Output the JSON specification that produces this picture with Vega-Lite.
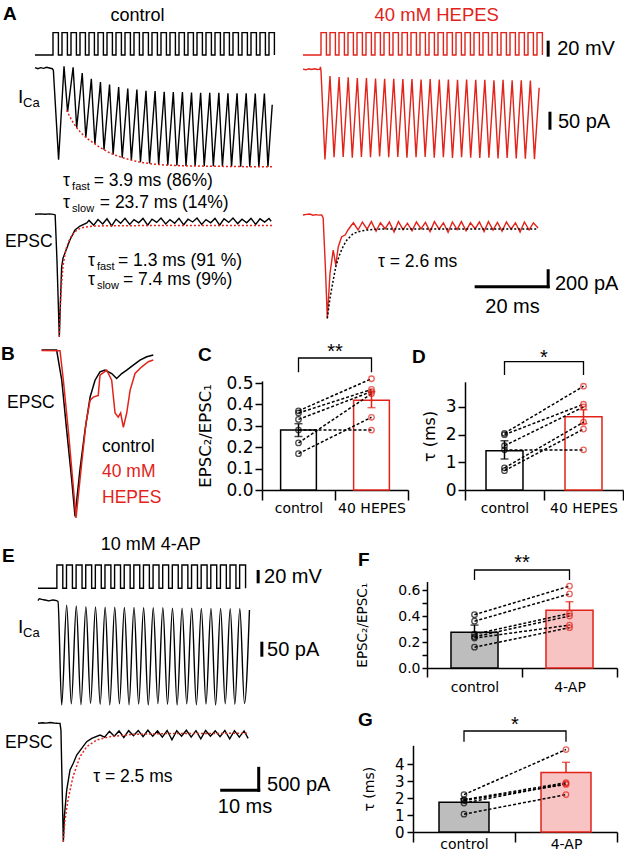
{
"$schema": "https://vega.github.io/schema/vega-lite/v6.json",
"width": 624, "height": 853, "padding": 0, "autosize": "none", "background": "white",
"config": {
  "view": {"stroke": null},
  "text": {"font": "Liberation Sans", "color": "#000000"},
  "axis": {"labelFont": "DejaVu Sans", "titleFont": "DejaVu Sans", "domainColor": "#000000", "tickColor": "#000000", "labelColor": "#000000", "titleColor": "#000000", "grid": false, "titleFontWeight": "normal", "labelOverlap": false, "labelBound": false, "labelFlush": false}
},
"datasets": {
  "vA": [{"t":0,"v":0},{"t":5,"v":28},{"t":6.5,"v":0},{"t":7.5,"v":28},{"t":9,"v":0},{"t":10,"v":28},{"t":11.5,"v":0},{"t":12.5,"v":28},{"t":14,"v":0},{"t":15,"v":28},{"t":16.5,"v":0},{"t":17.5,"v":28},{"t":19,"v":0},{"t":20,"v":28},{"t":21.5,"v":0},{"t":22.5,"v":28},{"t":24,"v":0},{"t":25,"v":28},{"t":26.5,"v":0},{"t":27.5,"v":28},{"t":29,"v":0},{"t":30,"v":28},{"t":31.5,"v":0},{"t":32.5,"v":28},{"t":34,"v":0},{"t":35,"v":28},{"t":36.5,"v":0},{"t":37.5,"v":28},{"t":39,"v":0},{"t":40,"v":28},{"t":41.5,"v":0},{"t":42.5,"v":28},{"t":44,"v":0},{"t":45,"v":28},{"t":46.5,"v":0},{"t":47.5,"v":28},{"t":49,"v":0},{"t":50,"v":28},{"t":51.5,"v":0},{"t":52.5,"v":28},{"t":54,"v":0},{"t":55,"v":28},{"t":56.5,"v":0},{"t":57.5,"v":28},{"t":59,"v":0},{"t":60,"v":28},{"t":61.5,"v":0},{"t":62.5,"v":28},{"t":64,"v":0},{"t":65,"v":28},{"t":66.5,"v":0}],
  "iAc": [{"t":0,"v":1},{"t":0.8,"v":-2},{"t":1.6,"v":1},{"t":2.4,"v":-1},{"t":3.2,"v":2},{"t":4.0,"v":0},{"t":4.8,"v":-2},{"t":5.1,"v":-6},{"t":6.55,"v":-255},{"t":8.06,"v":5},{"t":9.05,"v":-122},{"t":10.59,"v":2},{"t":11.58,"v":-166},{"t":13.12,"v":-14},{"t":14.11,"v":-193},{"t":15.65,"v":-30},{"t":16.64,"v":-211},{"t":18.18,"v":-39},{"t":19.17,"v":-227},{"t":20.71,"v":-46},{"t":21.70,"v":-240},{"t":23.24,"v":-53},{"t":24.23,"v":-249},{"t":25.77,"v":-57},{"t":26.76,"v":-256},{"t":28.30,"v":-60},{"t":29.29,"v":-262},{"t":30.83,"v":-63},{"t":31.82,"v":-265},{"t":33.36,"v":-64},{"t":34.35,"v":-268},{"t":35.89,"v":-66},{"t":36.88,"v":-270},{"t":38.42,"v":-67},{"t":39.41,"v":-271},{"t":40.95,"v":-67},{"t":41.94,"v":-272},{"t":43.48,"v":-68},{"t":44.47,"v":-272},{"t":46.01,"v":-69},{"t":47.00,"v":-273},{"t":48.54,"v":-69},{"t":49.53,"v":-273},{"t":51.07,"v":-69},{"t":52.06,"v":-273},{"t":53.60,"v":-70},{"t":54.59,"v":-274},{"t":56.13,"v":-70},{"t":57.12,"v":-274},{"t":58.66,"v":-70},{"t":59.65,"v":-274},{"t":61.19,"v":-71},{"t":62.18,"v":-274},{"t":63.72,"v":-71},{"t":64.71,"v":-274},{"t":65.9,"v":-102}],
  "fitAc": [{"t":8.8,"v":-117},{"t":9.5,"v":-132},{"t":10.5,"v":-150},{"t":11.5,"v":-165},{"t":12.5,"v":-177},{"t":13.5,"v":-187},{"t":14.5,"v":-196},{"t":15.5,"v":-203},{"t":16.5,"v":-210},{"t":17.5,"v":-217},{"t":18.5,"v":-223},{"t":20,"v":-232},{"t":22,"v":-241},{"t":24,"v":-248},{"t":26,"v":-254},{"t":28,"v":-259},{"t":30,"v":-263},{"t":33,"v":-267},{"t":37,"v":-270},{"t":42,"v":-272},{"t":50,"v":-273},{"t":58,"v":-274},{"t":66,"v":-274}],
  "iAh": [{"t":0,"v":-3},{"t":0.8,"v":-5},{"t":1.6,"v":-2},{"t":2.4,"v":-4},{"t":3.2,"v":-2},{"t":4.0,"v":-4},{"t":4.7,"v":-3},{"t":4.85,"v":3},{"t":5.0,"v":-8},{"t":6.1,"v":-254},{"t":7.5,"v":-22},{"t":8.63,"v":-248},{"t":10.03,"v":-25},{"t":11.16,"v":-247},{"t":12.56,"v":-26},{"t":13.69,"v":-249},{"t":15.09,"v":-28},{"t":16.22,"v":-247},{"t":17.62,"v":-28},{"t":18.75,"v":-248},{"t":20.15,"v":-29},{"t":21.28,"v":-246},{"t":22.68,"v":-30},{"t":23.81,"v":-248},{"t":25.21,"v":-30},{"t":26.34,"v":-247},{"t":27.74,"v":-31},{"t":28.87,"v":-249},{"t":30.27,"v":-31},{"t":31.40,"v":-248},{"t":32.80,"v":-32},{"t":33.93,"v":-247},{"t":35.33,"v":-31},{"t":36.46,"v":-249},{"t":37.86,"v":-32},{"t":38.99,"v":-248},{"t":40.39,"v":-32},{"t":41.52,"v":-250},{"t":42.92,"v":-33},{"t":44.05,"v":-248},{"t":45.45,"v":-32},{"t":46.58,"v":-249},{"t":47.98,"v":-33},{"t":49.11,"v":-250},{"t":50.51,"v":-33},{"t":51.64,"v":-249},{"t":53.04,"v":-34},{"t":54.17,"v":-251},{"t":55.57,"v":-33},{"t":56.70,"v":-250},{"t":58.10,"v":-34},{"t":59.23,"v":-251},{"t":60.63,"v":-34},{"t":61.76,"v":-252},{"t":63.16,"v":-35},{"t":64.29,"v":-253},{"t":65.6,"v":-55}],
  "eAc": [{"t":0,"v":-4},{"t":1.5,"v":2},{"t":2.8,"v":-3},{"t":4,"v":1},{"t":5.1,"v":-4},{"t":5.6,"v":-12},{"t":6.1,"v":-575},{"t":6.75,"v":-1534},{"t":7.08,"v":-1075},{"t":7.4,"v":-659},{"t":7.8,"v":-550},{"t":8.33,"v":-488},{"t":9.7,"v":-325},{"t":11.1,"v":-200},{"t":12.5,"v":-150},{"t":14.4,"v":-112},{"t":15.0,"v":-80},{"t":16.3,"v":-140},{"t":17.5,"v":-70},{"t":18.8,"v":-125},{"t":20.0,"v":-60},{"t":21.3,"v":-150},{"t":22.5,"v":-65},{"t":23.8,"v":-115},{"t":25.0,"v":-55},{"t":26.3,"v":-130},{"t":27.5,"v":-70},{"t":28.8,"v":-110},{"t":30.0,"v":-55},{"t":31.3,"v":-140},{"t":32.5,"v":-65},{"t":33.8,"v":-105},{"t":35.0,"v":-50},{"t":36.3,"v":-125},{"t":37.5,"v":-70},{"t":38.8,"v":-115},{"t":40.0,"v":-55},{"t":41.3,"v":-135},{"t":42.5,"v":-65},{"t":43.8,"v":-100},{"t":45.0,"v":-50},{"t":46.3,"v":-130},{"t":47.5,"v":-70},{"t":48.8,"v":-110},{"t":50.0,"v":-55},{"t":51.3,"v":-140},{"t":52.5,"v":-60},{"t":53.8,"v":-105},{"t":55.0,"v":-50},{"t":56.3,"v":-120},{"t":57.5,"v":-65},{"t":58.8,"v":-110},{"t":60.0,"v":-55},{"t":61.3,"v":-130},{"t":62.5,"v":-60},{"t":63.8,"v":-100},{"t":65.0,"v":-55},{"t":65.6,"v":-90}],
  "fitAcE": [{"t":6.75,"v":-1534},{"t":7.0,"v":-1180},{"t":7.3,"v":-930},{"t":7.8,"v":-640},{"t":8.6,"v":-440},{"t":9.7,"v":-305},{"t":11.1,"v":-220},{"t":12.5,"v":-180},{"t":14,"v":-162},{"t":16,"v":-152},{"t":20,"v":-147},{"t":30,"v":-145},{"t":66,"v":-145}],
  "eAh": [{"t":0,"v":-12},{"t":1.0,"v":-5},{"t":1.9,"v":0},{"t":2.8,"v":-15},{"t":3.6,"v":-8},{"t":4.4,"v":-14},{"t":5.2,"v":-12},{"t":5.6,"v":-50},{"t":6.25,"v":-700},{"t":6.75,"v":-1304},{"t":7.5,"v":-741},{"t":8.4,"v":-450},{"t":9.1,"v":-638},{"t":9.8,"v":-409},{"t":10.75,"v":-284},{"t":11.7,"v":-263},{"t":12.5,"v":-200},{"t":13.3,"v":-150},{"t":14.0,"v":-110},{"t":15.3,"v":-200},{"t":16.5,"v":-100},{"t":17.8,"v":-190},{"t":19.0,"v":-95},{"t":20.3,"v":-215},{"t":21.5,"v":-110},{"t":22.8,"v":-185},{"t":24.0,"v":-100},{"t":25.3,"v":-225},{"t":26.5,"v":-95},{"t":27.8,"v":-195},{"t":29.0,"v":-115},{"t":30.3,"v":-210},{"t":31.5,"v":-100},{"t":32.8,"v":-185},{"t":34.0,"v":-105},{"t":35.3,"v":-220},{"t":36.5,"v":-95},{"t":37.8,"v":-190},{"t":39.0,"v":-110},{"t":40.3,"v":-230},{"t":41.5,"v":-100},{"t":42.8,"v":-195},{"t":44.0,"v":-95},{"t":45.3,"v":-210},{"t":46.5,"v":-110},{"t":47.8,"v":-185},{"t":49.0,"v":-100},{"t":50.3,"v":-220},{"t":51.5,"v":-95},{"t":52.8,"v":-200},{"t":54.0,"v":-105},{"t":55.3,"v":-215},{"t":56.5,"v":-100},{"t":57.8,"v":-190},{"t":59.0,"v":-110},{"t":60.3,"v":-225},{"t":61.5,"v":-100},{"t":62.8,"v":-200},{"t":64.0,"v":-110},{"t":65.3,"v":-175}],
  "fitAh": [{"t":6.75,"v":-1304},{"t":7.5,"v":-1050},{"t":8.4,"v":-825},{"t":9.2,"v":-640},{"t":10.3,"v":-492},{"t":11.2,"v":-400},{"t":12.2,"v":-325},{"t":14.0,"v":-242},{"t":16,"v":-215},{"t":17.7,"v":-200},{"t":20,"v":-192},{"t":22.3,"v":-187},{"t":30,"v":-186},{"t":65.3,"v":-186}],
  "bK": [{"t":0.1,"v":0},{"t":1.04,"v":0},{"t":1.36,"v":-0.18},{"t":1.67,"v":-0.48},{"t":1.98,"v":-0.77},{"t":2.19,"v":-0.99},{"t":2.5,"v":-0.71},{"t":2.81,"v":-0.48},{"t":3.13,"v":-0.28},{"t":3.44,"v":-0.18},{"t":3.75,"v":-0.13},{"t":4.06,"v":-0.12},{"t":4.48,"v":-0.14},{"t":4.79,"v":-0.17},{"t":5.11,"v":-0.14},{"t":5.42,"v":-0.12},{"t":5.83,"v":-0.09},{"t":6.25,"v":-0.06},{"t":6.67,"v":-0.04},{"t":7.08,"v":-0.03}],
  "bR": [{"t":0.1,"v":-0.003},{"t":1.25,"v":-0.004},{"t":1.46,"v":-0.18},{"t":1.77,"v":-0.48},{"t":2.04,"v":-0.77},{"t":2.25,"v":-1.0},{"t":2.61,"v":-0.67},{"t":2.88,"v":-0.43},{"t":3.13,"v":-0.3},{"t":3.33,"v":-0.28},{"t":3.64,"v":-0.27},{"t":3.75,"v":-0.15},{"t":4.17,"v":-0.12},{"t":4.48,"v":-0.18},{"t":4.69,"v":-0.375},{"t":4.89,"v":-0.4},{"t":5.04,"v":-0.375},{"t":5.21,"v":-0.46},{"t":5.42,"v":-0.375},{"t":5.63,"v":-0.24},{"t":5.94,"v":-0.14},{"t":6.36,"v":-0.1},{"t":6.77,"v":-0.07},{"t":7.08,"v":-0.06}],
  "vE": [{"t":0,"v":0},{"t":5.1,"v":35},{"t":6.7,"v":0},{"t":7.7,"v":35},{"t":9.3,"v":0},{"t":10.3,"v":35},{"t":11.9,"v":0},{"t":12.9,"v":35},{"t":14.5,"v":0},{"t":15.5,"v":35},{"t":17.1,"v":0},{"t":18.1,"v":35},{"t":19.7,"v":0},{"t":20.7,"v":35},{"t":22.3,"v":0},{"t":23.3,"v":35},{"t":24.9,"v":0},{"t":25.9,"v":35},{"t":27.5,"v":0},{"t":28.5,"v":35},{"t":30.1,"v":0},{"t":31.1,"v":35},{"t":32.7,"v":0},{"t":33.7,"v":35},{"t":35.3,"v":0},{"t":36.3,"v":35},{"t":37.9,"v":0},{"t":38.9,"v":35},{"t":40.5,"v":0},{"t":41.5,"v":35},{"t":43.1,"v":0},{"t":44.1,"v":35},{"t":45.7,"v":0},{"t":46.7,"v":35},{"t":48.3,"v":0},{"t":49.3,"v":35},{"t":50.9,"v":0},{"t":51.9,"v":35},{"t":53.5,"v":0},{"t":54.5,"v":35},{"t":56.1,"v":0}],
  "iE": [{"t":0,"v":-2},{"t":0.4,"v":4},{"t":1,"v":2},{"t":2,"v":0},{"t":3,"v":-3},{"t":4,"v":0},{"t":5.0,"v":-2},{"t":5.4,"v":-5},{"t":6.4,"v":-350},{"t":7.75,"v":-17},{"t":9.0,"v":-346},{"t":10.35,"v":-20},{"t":11.6,"v":-349},{"t":12.95,"v":-22},{"t":14.2,"v":-345},{"t":15.55,"v":-23},{"t":16.8,"v":-348},{"t":18.15,"v":-24},{"t":19.4,"v":-350},{"t":20.75,"v":-24},{"t":22.0,"v":-346},{"t":23.35,"v":-25},{"t":24.6,"v":-349},{"t":25.95,"v":-25},{"t":27.2,"v":-347},{"t":28.55,"v":-26},{"t":29.8,"v":-350},{"t":31.15,"v":-26},{"t":32.4,"v":-345},{"t":33.75,"v":-26},{"t":35.0,"v":-348},{"t":36.35,"v":-27},{"t":37.6,"v":-350},{"t":38.95,"v":-27},{"t":40.2,"v":-346},{"t":41.55,"v":-27},{"t":42.8,"v":-349},{"t":44.15,"v":-28},{"t":45.4,"v":-347},{"t":46.75,"v":-28},{"t":48.0,"v":-350},{"t":49.35,"v":-28},{"t":50.6,"v":-346},{"t":51.95,"v":-29},{"t":53.2,"v":-348},{"t":54.55,"v":-29},{"t":55.8,"v":-345},{"t":57.15,"v":-33}],
  "eE": [{"t":0,"v":-5},{"t":1.2,"v":5},{"t":2.2,"v":-3},{"t":3.24,"v":11},{"t":4.3,"v":0},{"t":5.2,"v":-5},{"t":5.95,"v":-7},{"t":6.2,"v":-160},{"t":6.84,"v":-2698},{"t":7.16,"v":-2090},{"t":7.76,"v":-1523},{"t":8.65,"v":-1068},{"t":9.54,"v":-916},{"t":10.46,"v":-727},{"t":11.81,"v":-575},{"t":13.16,"v":-425},{"t":14.51,"v":-348},{"t":16.76,"v":-273},{"t":18.0,"v":-320},{"t":19.3,"v":-190},{"t":20.6,"v":-300},{"t":21.9,"v":-180},{"t":23.2,"v":-330},{"t":24.5,"v":-175},{"t":25.8,"v":-290},{"t":27.1,"v":-170},{"t":28.4,"v":-310},{"t":29.7,"v":-165},{"t":31.0,"v":-300},{"t":32.3,"v":-180},{"t":33.6,"v":-320},{"t":34.9,"v":-170},{"t":36.2,"v":-380},{"t":37.5,"v":-175},{"t":38.8,"v":-300},{"t":40.1,"v":-165},{"t":41.4,"v":-320},{"t":42.7,"v":-175},{"t":44.0,"v":-360},{"t":45.3,"v":-170},{"t":46.6,"v":-300},{"t":47.9,"v":-180},{"t":49.2,"v":-310},{"t":50.5,"v":-170},{"t":51.8,"v":-360},{"t":53.1,"v":-175},{"t":54.4,"v":-320},{"t":55.7,"v":-180},{"t":56.8,"v":-350}],
  "fitE": [{"t":6.84,"v":-2698},{"t":7.3,"v":-2200},{"t":8.1,"v":-1750},{"t":9.46,"v":-1220},{"t":11.35,"v":-765},{"t":13.16,"v":-538},{"t":15.86,"v":-386},{"t":19.46,"v":-311},{"t":25.8,"v":-258},{"t":35,"v":-240},{"t":56.8,"v":-234}],
  "cBar": [{"g":"control","y":0.28},{"g":"40 HEPES","y":0.42}],
  "cErr": [{"g":"control","y":0.25,"y2":0.31},{"g":"40 HEPES","y":0.385,"y2":0.46}],
  "cCap": [{"g":"control","y":0.25},{"g":"control","y":0.31},{"g":"40 HEPES","y":0.385},{"g":"40 HEPES","y":0.46}],
  "cBr": [{"g":"control","y":0.551,"k":1},{"g":"control","y":0.617,"k":2},{"g":"40 HEPES","y":0.617,"k":3},{"g":"40 HEPES","y":0.551,"k":4}],
  "cPts": [{"pair":1,"g":"control","y":0.37},{"pair":1,"g":"40 HEPES","y":0.52},{"pair":2,"g":"control","y":0.36},{"pair":2,"g":"40 HEPES","y":0.47},{"pair":3,"g":"control","y":0.33},{"pair":3,"g":"40 HEPES","y":0.46},{"pair":4,"g":"control","y":0.28},{"pair":4,"g":"40 HEPES","y":0.28},{"pair":5,"g":"control","y":0.22},{"pair":5,"g":"40 HEPES","y":0.45},{"pair":6,"g":"control","y":0.17},{"pair":6,"g":"40 HEPES","y":0.34}],
  "dBar": [{"g":"control","y":1.42},{"g":"40 HEPES","y":2.65}],
  "dErr": [{"g":"control","y":1.12,"y2":1.78},{"g":"40 HEPES","y":2.4,"y2":2.9}],
  "dCap": [{"g":"control","y":1.12},{"g":"control","y":1.78},{"g":"40 HEPES","y":2.4},{"g":"40 HEPES","y":2.9}],
  "dBr": [{"g":"control","y":4.16,"k":1},{"g":"control","y":4.64,"k":2},{"g":"40 HEPES","y":4.64,"k":3},{"g":"40 HEPES","y":4.16,"k":4}],
  "dPts": [{"pair":1,"g":"control","y":2.05},{"pair":1,"g":"40 HEPES","y":3.75},{"pair":2,"g":"control","y":2.0},{"pair":2,"g":"40 HEPES","y":3.1},{"pair":3,"g":"control","y":1.6},{"pair":3,"g":"40 HEPES","y":3.0},{"pair":4,"g":"control","y":1.45},{"pair":4,"g":"40 HEPES","y":1.45},{"pair":5,"g":"control","y":0.8},{"pair":5,"g":"40 HEPES","y":2.45},{"pair":6,"g":"control","y":0.7},{"pair":6,"g":"40 HEPES","y":2.2}],
  "fBar": [{"g":"control","y":0.275},{"g":"4-AP","y":0.445}],
  "fErr": [{"g":"control","y":0.275,"y2":0.33},{"g":"4-AP","y":0.445,"y2":0.51}],
  "fCap": [{"g":"control","y":0.33},{"g":"4-AP","y":0.51}],
  "fBr": [{"g":"control","y":0.677,"k":1},{"g":"control","y":0.754,"k":2},{"g":"4-AP","y":0.754,"k":3},{"g":"4-AP","y":0.677,"k":4}],
  "fPts": [{"pair":1,"g":"control","y":0.41},{"pair":1,"g":"4-AP","y":0.63},{"pair":2,"g":"control","y":0.36},{"pair":2,"g":"4-AP","y":0.57},{"pair":3,"g":"control","y":0.26},{"pair":3,"g":"4-AP","y":0.42},{"pair":4,"g":"control","y":0.24},{"pair":4,"g":"4-AP","y":0.40},{"pair":5,"g":"control","y":0.23},{"pair":5,"g":"4-AP","y":0.33},{"pair":6,"g":"control","y":0.16},{"pair":6,"g":"4-AP","y":0.31}],
  "gBar": [{"g":"control","y":1.75},{"g":"4-AP","y":3.5}],
  "gErr": [{"g":"control","y":1.75,"y2":1.95},{"g":"4-AP","y":3.5,"y2":4.1}],
  "gCap": [{"g":"control","y":1.95},{"g":"4-AP","y":4.1}],
  "gBr": [{"g":"control","y":5.31,"k":1},{"g":"control","y":5.94,"k":2},{"g":"4-AP","y":5.94,"k":3},{"g":"4-AP","y":5.31,"k":4}],
  "gPts": [{"pair":1,"g":"control","y":2.2},{"pair":1,"g":"4-AP","y":4.85},{"pair":2,"g":"control","y":1.9},{"pair":2,"g":"4-AP","y":2.9},{"pair":3,"g":"control","y":1.85},{"pair":3,"g":"4-AP","y":2.8},{"pair":4,"g":"control","y":1.7},{"pair":4,"g":"4-AP","y":2.85},{"pair":5,"g":"control","y":1.05},{"pair":5,"g":"4-AP","y":2.2}]
},
"layer": [
  {"data":{"name":"vA"},
   "encoding":{"x":{"field":"t","type":"quantitative","scale":{"domain":[0,70],"range":[35,287],"nice":false,"zero":false},"axis":null},
               "y":{"field":"v","type":"quantitative","scale":{"domain":[0,28],"range":[55,32.6],"nice":false,"zero":false},"axis":null}},
   "layer":[
     {"mark":{"type":"line","interpolate":"step-after","color":"#000000","strokeWidth":1.4}},
     {"data":{"values":[{"t":28.47,"v":42.9,"label":"control"}]},"mark":{"type":"text","fontSize":18,"align":"center","baseline":"alphabetic"},"encoding":{"text":{"field":"label"}}},
     {"data":{"values":[{"t":-8.89,"v":43.75,"label":"A"}]},"mark":{"type":"text","fontSize":19,"fontWeight":"bold","align":"left","baseline":"alphabetic"},"encoding":{"text":{"field":"label"}}}
   ]},
  {"data":{"name":"vA"},
   "encoding":{"x":{"field":"t","type":"quantitative","scale":{"domain":[0,70],"range":[303,555],"nice":false,"zero":false},"axis":null},
               "y":{"field":"v","type":"quantitative","scale":{"domain":[0,28],"range":[55,32.6],"nice":false,"zero":false},"axis":null}},
   "layer":[
     {"mark":{"type":"line","interpolate":"step-after","color":"#e2231a","strokeWidth":1.4}},
     {"data":{"values":[{"t":37.14,"v":42.9,"label":"40 mM HEPES"}]},"mark":{"type":"text","fontSize":18.5,"align":"center","baseline":"alphabetic","color":"#e2231a"},"encoding":{"text":{"field":"label"}}},
     {"data":{"values":[{"t":68.1,"v":-2.1,"v2":17.9}]},"mark":{"type":"rule","strokeWidth":3,"color":"#000000"},"encoding":{"y2":{"field":"v2"}}},
     {"data":{"values":[{"t":70.6,"v":0,"label":"20 mV"}]},"mark":{"type":"text","fontSize":20,"align":"left","baseline":"alphabetic"},"encoding":{"text":{"field":"label"}}}
   ]},
  {"data":{"name":"iAc"},
   "encoding":{"x":{"field":"t","type":"quantitative","scale":{"domain":[0,70],"range":[35,287],"nice":false,"zero":false},"axis":null},
               "y":{"field":"v","type":"quantitative","scale":{"domain":[-300,0],"range":[176,68],"nice":false,"zero":false},"axis":null}},
   "layer":[
     {"mark":{"type":"line","color":"#000000","strokeWidth":1.4}},
     {"data":{"name":"fitAc"},"mark":{"type":"line","color":"#e2231a","strokeWidth":1.5,"strokeDash":[2,2]}},
     {"data":{"values":[{"t":-4.72,"v":-97.2,"label":"I"}]},"mark":{"type":"text","fontSize":19,"align":"left","baseline":"alphabetic"},"encoding":{"text":{"field":"label"}}},
     {"data":{"values":[{"t":-3.33,"v":-108.3,"label":"Ca"}]},"mark":{"type":"text","fontSize":13,"align":"left","baseline":"alphabetic"},"encoding":{"text":{"field":"label"}}},
     {"data":{"values":[{"t":7.78,"v":-328.6,"label":"τ"},{"t":16.3,"v":-328.6,"label":"= 3.9 ms (86%)"},{"t":7.78,"v":-388.9,"label":"τ"},{"t":18.0,"v":-388.9,"label":"= 23.7 ms (14%)"}]},"mark":{"type":"text","fontSize":17.5,"align":"left","baseline":"alphabetic"},"encoding":{"text":{"field":"label"}}},
     {"data":{"values":[{"t":10.3,"v":-339.7,"label":"fast"},{"t":10.3,"v":-400,"label":"slow"}]},"mark":{"type":"text","fontSize":11,"align":"left","baseline":"alphabetic"},"encoding":{"text":{"field":"label"}}}
   ]},
  {"data":{"name":"iAh"},
   "encoding":{"x":{"field":"t","type":"quantitative","scale":{"domain":[0,70],"range":[303,555],"nice":false,"zero":false},"axis":null},
               "y":{"field":"v","type":"quantitative","scale":{"domain":[-300,0],"range":[176,68],"nice":false,"zero":false},"axis":null}},
   "layer":[
     {"mark":{"type":"line","color":"#e2231a","strokeWidth":1.4}},
     {"data":{"values":[{"t":68.6,"v":-121.4,"v2":-171.4}]},"mark":{"type":"rule","strokeWidth":3,"color":"#000000"},"encoding":{"y2":{"field":"v2"}}},
     {"data":{"values":[{"t":70.8,"v":-166.7,"label":"50 pA"}]},"mark":{"type":"text","fontSize":20,"align":"left","baseline":"alphabetic"},"encoding":{"text":{"field":"label"}}}
   ]},
  {"data":{"name":"eAc"},
   "encoding":{"x":{"field":"t","type":"quantitative","scale":{"domain":[0,70],"range":[35,287],"nice":false,"zero":false},"axis":null},
               "y":{"field":"v","type":"quantitative","scale":{"domain":[-1700,100],"range":[350,206],"nice":false,"zero":false},"axis":null}},
   "layer":[
     {"mark":{"type":"line","color":"#000000","strokeWidth":1.4}},
     {"data":{"name":"fitAcE"},"mark":{"type":"line","color":"#e2231a","strokeWidth":1.5,"strokeDash":[2,2]}},
     {"data":{"values":[{"t":-8.33,"v":-412.5,"label":"EPSC"},{"t":14.72,"v":-653.75,"label":"τ"},{"t":23.06,"v":-653.75,"label":"= 1.3 ms (91 %)"},{"t":14.72,"v":-882.5,"label":"τ"},{"t":24.44,"v":-882.5,"label":"= 7.4 ms (9%)"}]},"mark":{"type":"text","fontSize":17.5,"align":"left","baseline":"alphabetic"},"encoding":{"text":{"field":"label"}}},
     {"data":{"values":[{"t":17.2,"v":-703.75,"label":"fast"},{"t":17.2,"v":-932.5,"label":"slow"}]},"mark":{"type":"text","fontSize":11,"align":"left","baseline":"alphabetic"},"encoding":{"text":{"field":"label"}}}
   ]},
  {"data":{"name":"eAh"},
   "encoding":{"x":{"field":"t","type":"quantitative","scale":{"domain":[0,70],"range":[303,555],"nice":false,"zero":false},"axis":null},
               "y":{"field":"v","type":"quantitative","scale":{"domain":[-1700,100],"range":[350,206],"nice":false,"zero":false},"axis":null}},
   "layer":[
     {"mark":{"type":"line","color":"#e2231a","strokeWidth":1.4}},
     {"data":{"name":"fitAh"},"mark":{"type":"line","color":"#000000","strokeWidth":1.5,"strokeDash":[2,2]}},
     {"data":{"values":[{"t":20.83,"v":-658.75,"label":"τ = 2.6 ms"}]},"mark":{"type":"text","fontSize":17.5,"align":"left","baseline":"alphabetic"},"encoding":{"text":{"field":"label"}}},
     {"data":{"values":[{"t":68.1,"v":-709,"v2":-909}]},"mark":{"type":"rule","strokeWidth":3,"strokeCap":"square","color":"#000000"},"encoding":{"y2":{"field":"v2"}}},
     {"data":{"values":[{"t":48.1,"t2":68.1,"v":-909}]},"mark":{"type":"rule","strokeWidth":3,"strokeCap":"square","color":"#000000"},"encoding":{"x2":{"field":"t2"}}},
     {"data":{"values":[{"t":70,"v":-950,"label":"200 pA"}]},"mark":{"type":"text","fontSize":20,"align":"left","baseline":"alphabetic"},"encoding":{"text":{"field":"label"}}},
     {"data":{"values":[{"t":58.2,"v":-1241,"label":"20 ms"}]},"mark":{"type":"text","fontSize":20,"align":"center","baseline":"alphabetic"},"encoding":{"text":{"field":"label"}}}
   ]},
  {"data":{"name":"bK"},
   "encoding":{"x":{"field":"t","type":"quantitative","scale":{"domain":[0,8],"range":[40,168],"nice":false,"zero":false},"axis":null},
               "y":{"field":"v","type":"quantitative","scale":{"domain":[-1.05,0.05],"range":[526.4,341.6],"nice":false,"zero":false},"axis":null}},
   "layer":[
     {"mark":{"type":"line","color":"#000000","strokeWidth":1.5}},
     {"data":{"name":"bR"},"mark":{"type":"line","color":"#e2231a","strokeWidth":1.5}},
     {"data":{"values":[{"t":-2.44,"v":-0.0595,"label":"B"},{"t":9.875,"v":-0.0655,"label":"C"},{"t":23.25,"v":-0.0774,"label":"D"}]},"mark":{"type":"text","fontSize":19,"fontWeight":"bold","align":"left","baseline":"alphabetic"},"encoding":{"text":{"field":"label"}}},
     {"data":{"values":[{"t":-2.06,"v":-0.345,"label":"EPSC"},{"t":3.875,"v":-0.605,"label":"control"}]},"mark":{"type":"text","fontSize":17.5,"align":"left","baseline":"alphabetic"},"encoding":{"text":{"field":"label"}}},
     {"data":{"values":[{"t":3.875,"v":-0.754,"label":"40 mM"},{"t":3.875,"v":-0.911,"label":"HEPES"}]},"mark":{"type":"text","fontSize":17.5,"align":"left","baseline":"alphabetic","color":"#e2231a"},"encoding":{"text":{"field":"label"}}}
   ]},
  {"encoding":{"x":{"field":"g","type":"nominal","sort":null,"scale":{"domain":["control","40 HEPES"],"range":[262,408],"paddingInner":0,"paddingOuter":0},"axis":{"orient":"bottom","offset":-363,"title":null,"tickBand":"extent","tickSize":10,"tickWidth":1.5,"domainWidth":1.5,"labelFontSize":14,"labelPadding":1,"labelAngle":0}},
               "y":{"field":"y","type":"quantitative","scale":{"domain":[0,0.51],"range":[490,380.9],"nice":false,"zero":false},"axis":{"orient":"left","offset":-262,"values":[0,0.1,0.2,0.3,0.4,0.5],"format":".1f","title":"EPSC₂/EPSC₁","titleFontSize":16.5,"titlePadding":12,"tickSize":7,"tickWidth":1.5,"domainWidth":1.5,"labelFontSize":17,"labelPadding":2}}},
   "layer":[
     {"data":{"name":"cBar"},"transform":[{"filter":"datum.g == 'control'"}],"mark":{"type":"bar","width":{"band":0.49},"fill":"#ffffff","stroke":"#000000","strokeWidth":1.5},"encoding":{"y2":{"datum":0}}},
     {"data":{"name":"cBar"},"transform":[{"filter":"datum.g != 'control'"}],"mark":{"type":"bar","width":{"band":0.49},"fill":"#ffffff","stroke":"#e2231a","strokeWidth":1.5},"encoding":{"y2":{"datum":0}}},
     {"data":{"name":"cErr"},"mark":{"type":"rule","strokeWidth":1.5},"encoding":{"y2":{"field":"y2"},"color":{"condition":{"test":"datum.g == 'control'","value":"#000000"},"value":"#e2231a"}}},
     {"data":{"name":"cCap"},"mark":{"type":"tick","orient":"horizontal","size":8,"thickness":1.5},"encoding":{"color":{"condition":{"test":"datum.g == 'control'","value":"#000000"},"value":"#e2231a"}}},
     {"data":{"name":"cPts"},"mark":{"type":"line","strokeDash":[3,2],"strokeWidth":1.5,"color":"#000000"},"encoding":{"detail":{"field":"pair","type":"nominal"}}},
     {"data":{"name":"cPts"},"mark":{"type":"point","filled":false,"size":30,"strokeWidth":1.3},"encoding":{"color":{"condition":{"test":"datum.g == 'control'","value":"#000000"},"value":"#e2231a"}}},
     {"data":{"name":"cBr"},"mark":{"type":"line","strokeWidth":1.3,"color":"#000000"},"encoding":{"order":{"field":"k","type":"quantitative"}}},
     {"data":{"values":[{"g":"control","y":0.619,"label":"**"}]},"mark":{"type":"text","fontSize":20,"align":"center","baseline":"alphabetic"},"encoding":{"text":{"field":"label"},
        "x":{"field":"g","type":"nominal","sort":null,"bandPosition":1,"scale":{"domain":["control","40 HEPES"],"range":[262,408],"paddingInner":0,"paddingOuter":0},"axis":{"orient":"bottom","offset":-363,"title":null,"tickBand":"extent","tickSize":10,"tickWidth":1.5,"domainWidth":1.5,"labelFontSize":14,"labelPadding":1,"labelAngle":0}}}}
   ]},
  {"encoding":{"x":{"field":"g","type":"nominal","sort":null,"scale":{"domain":["control","40 HEPES"],"range":[465,623],"paddingInner":0,"paddingOuter":0},"axis":{"orient":"bottom","offset":-363,"title":null,"tickBand":"extent","tickSize":10,"tickWidth":1.5,"domainWidth":1.5,"labelFontSize":14,"labelPadding":1,"labelAngle":0}},
               "y":{"field":"y","type":"quantitative","scale":{"domain":[0,3.91],"range":[490,381.8],"nice":false,"zero":false},"axis":{"orient":"left","offset":-465,"values":[0,1,2,3],"format":"d","title":"τ (ms)","titleFontSize":16,"titlePadding":8,"tickSize":7,"tickWidth":1.5,"domainWidth":1.5,"labelFontSize":17,"labelPadding":2}}},
   "layer":[
     {"data":{"name":"dBar"},"transform":[{"filter":"datum.g == 'control'"}],"mark":{"type":"bar","width":{"band":0.468},"fill":"#ffffff","stroke":"#000000","strokeWidth":1.5},"encoding":{"y2":{"datum":0}}},
     {"data":{"name":"dBar"},"transform":[{"filter":"datum.g != 'control'"}],"mark":{"type":"bar","width":{"band":0.468},"fill":"#ffffff","stroke":"#e2231a","strokeWidth":1.5},"encoding":{"y2":{"datum":0}}},
     {"data":{"name":"dErr"},"mark":{"type":"rule","strokeWidth":1.5},"encoding":{"y2":{"field":"y2"},"color":{"condition":{"test":"datum.g == 'control'","value":"#000000"},"value":"#e2231a"}}},
     {"data":{"name":"dCap"},"mark":{"type":"tick","orient":"horizontal","size":8,"thickness":1.5},"encoding":{"color":{"condition":{"test":"datum.g == 'control'","value":"#000000"},"value":"#e2231a"}}},
     {"data":{"name":"dPts"},"mark":{"type":"line","strokeDash":[3,2],"strokeWidth":1.5,"color":"#000000"},"encoding":{"detail":{"field":"pair","type":"nominal"}}},
     {"data":{"name":"dPts"},"mark":{"type":"point","filled":false,"size":30,"strokeWidth":1.3},"encoding":{"color":{"condition":{"test":"datum.g == 'control'","value":"#000000"},"value":"#e2231a"}}},
     {"data":{"name":"dBr"},"mark":{"type":"line","strokeWidth":1.3,"color":"#000000"},"encoding":{"order":{"field":"k","type":"quantitative"}}},
     {"data":{"values":[{"g":"control","y":4.55,"label":"*"}]},"mark":{"type":"text","fontSize":20,"align":"center","baseline":"alphabetic"},"encoding":{"text":{"field":"label"},
        "x":{"field":"g","type":"nominal","sort":null,"bandPosition":1,"scale":{"domain":["control","40 HEPES"],"range":[465,623],"paddingInner":0,"paddingOuter":0},"axis":{"orient":"bottom","offset":-363,"title":null,"tickBand":"extent","tickSize":10,"tickWidth":1.5,"domainWidth":1.5,"labelFontSize":14,"labelPadding":1,"labelAngle":0}}}}
   ]},
  {"data":{"name":"vE"},
   "encoding":{"x":{"field":"t","type":"quantitative","scale":{"domain":[0,70],"range":[38,297],"nice":false,"zero":false},"axis":null},
               "y":{"field":"v","type":"quantitative","scale":{"domain":[0,35],"range":[588.3,564.95],"nice":false,"zero":false},"axis":null}},
   "layer":[
     {"mark":{"type":"line","interpolate":"step-after","color":"#000000","strokeWidth":1.4}},
     {"data":{"values":[{"t":-9.73,"v":39.4,"label":"E"},{"t":86.5,"v":33.4,"label":"F"}]},"mark":{"type":"text","fontSize":19,"fontWeight":"bold","align":"left","baseline":"alphabetic"},"encoding":{"text":{"field":"label"}}},
     {"data":{"values":[{"t":30.5,"v":57.4,"label":"10 mM 4-AP"}]},"mark":{"type":"text","fontSize":18,"align":"center","baseline":"alphabetic"},"encoding":{"text":{"field":"label"}}},
     {"data":{"values":[{"t":59.5,"v":7.5,"v2":27.5}]},"mark":{"type":"rule","strokeWidth":3,"color":"#000000"},"encoding":{"y2":{"field":"v2"}}},
     {"data":{"values":[{"t":61.1,"v":7.9,"label":"20 mV"}]},"mark":{"type":"text","fontSize":20,"align":"left","baseline":"alphabetic"},"encoding":{"text":{"field":"label"}}}
   ]},
  {"data":{"name":"iE"},
   "encoding":{"x":{"field":"t","type":"quantitative","scale":{"domain":[0,70],"range":[38,297],"nice":false,"zero":false},"axis":null},
               "y":{"field":"v","type":"quantitative","scale":{"domain":[-380,20],"range":[714,594],"nice":false,"zero":false},"axis":null}},
   "layer":[
     {"mark":{"type":"line","interpolate":"monotone","color":"#000000","strokeWidth":1.4}},
     {"data":{"values":[{"t":-5.41,"v":-110,"label":"I"}]},"mark":{"type":"text","fontSize":19,"align":"left","baseline":"alphabetic"},"encoding":{"text":{"field":"label"}}},
     {"data":{"values":[{"t":-4.05,"v":-123.3,"label":"Ca"}]},"mark":{"type":"text","fontSize":13,"align":"left","baseline":"alphabetic"},"encoding":{"text":{"field":"label"}}},
     {"data":{"values":[{"t":60.5,"v":-139,"v2":-189}]},"mark":{"type":"rule","strokeWidth":3,"color":"#000000"},"encoding":{"y2":{"field":"v2"}}},
     {"data":{"values":[{"t":61.9,"v":-186.7,"label":"50 pA"}]},"mark":{"type":"text","fontSize":20,"align":"left","baseline":"alphabetic"},"encoding":{"text":{"field":"label"}}}
   ]},
  {"data":{"name":"eE"},
   "encoding":{"x":{"field":"t","type":"quantitative","scale":{"domain":[0,70],"range":[38,297],"nice":false,"zero":false},"axis":null},
               "y":{"field":"v","type":"quantitative","scale":{"domain":[-2800,100],"range":[846.2,718.6],"nice":false,"zero":false},"axis":null}},
   "layer":[
     {"mark":{"type":"line","color":"#000000","strokeWidth":1.4}},
     {"data":{"name":"fitE"},"mark":{"type":"line","color":"#e2231a","strokeWidth":1.5,"strokeDash":[2,2]}},
     {"data":{"values":[{"t":-8.9,"v":-568,"label":"EPSC"},{"t":14.9,"v":-1334,"label":"τ = 2.5 ms"}]},"mark":{"type":"text","fontSize":17.5,"align":"left","baseline":"alphabetic"},"encoding":{"text":{"field":"label"}}},
     {"data":{"values":[{"t":86.5,"v":-68,"label":"G"}]},"mark":{"type":"text","fontSize":19,"fontWeight":"bold","align":"left","baseline":"alphabetic"},"encoding":{"text":{"field":"label"}}},
     {"data":{"values":[{"t":59.65,"v":-1030,"v2":-1530}]},"mark":{"type":"rule","strokeWidth":3,"strokeCap":"square","color":"#000000"},"encoding":{"y2":{"field":"v2"}}},
     {"data":{"values":[{"t":49.65,"t2":59.65,"v":-1530}]},"mark":{"type":"rule","strokeWidth":3,"strokeCap":"square","color":"#000000"},"encoding":{"x2":{"field":"t2"}}},
     {"data":{"values":[{"t":61.9,"v":-1545,"label":"500 pA"}]},"mark":{"type":"text","fontSize":20,"align":"left","baseline":"alphabetic"},"encoding":{"text":{"field":"label"}}},
     {"data":{"values":[{"t":55.95,"v":-2045,"label":"10 ms"}]},"mark":{"type":"text","fontSize":20,"align":"center","baseline":"alphabetic"},"encoding":{"text":{"field":"label"}}}
   ]},
  {"encoding":{"x":{"field":"g","type":"nominal","sort":null,"scale":{"domain":["control","4-AP"],"range":[427,617],"paddingInner":0,"paddingOuter":0},"axis":{"orient":"bottom","offset":-185,"title":null,"tickBand":"extent","tickSize":9,"tickWidth":1.5,"domainWidth":1.5,"labelFontSize":14,"labelPadding":3,"labelAngle":0}},
               "y":{"field":"y","type":"quantitative","scale":{"domain":[0,0.665],"range":[668,581.55],"nice":false,"zero":false},"axis":{"orient":"left","offset":-427,"values":[0,0.1,0.2,0.3,0.4,0.5,0.6],"labelExpr":"round(datum.value*10) % 2 == 0 ? format(datum.value, '.1f') : ''","title":"EPSC₂/EPSC₁","titleFontSize":13.5,"titlePadding":28,"tickSize":5,"tickWidth":1.5,"domainWidth":1.5,"labelFontSize":14,"labelPadding":2}}},
   "layer":[
     {"data":{"name":"fBar"},"transform":[{"filter":"datum.g == 'control'"}],"mark":{"type":"bar","width":{"band":0.495},"fill":"#bdbdbd","stroke":"#000000","strokeWidth":1.5},"encoding":{"y2":{"datum":0}}},
     {"data":{"name":"fBar"},"transform":[{"filter":"datum.g != 'control'"}],"mark":{"type":"bar","width":{"band":0.495},"fill":"#f8c3c3","stroke":"#e2231a","strokeWidth":1.5},"encoding":{"y2":{"datum":0}}},
     {"data":{"name":"fErr"},"mark":{"type":"rule","strokeWidth":1.5},"encoding":{"y2":{"field":"y2"},"color":{"condition":{"test":"datum.g == 'control'","value":"#000000"},"value":"#e2231a"}}},
     {"data":{"name":"fCap"},"mark":{"type":"tick","orient":"horizontal","size":8,"thickness":1.5},"encoding":{"color":{"condition":{"test":"datum.g == 'control'","value":"#000000"},"value":"#e2231a"}}},
     {"data":{"name":"fPts"},"mark":{"type":"line","strokeDash":[3,2],"strokeWidth":1.5,"color":"#000000"},"encoding":{"detail":{"field":"pair","type":"nominal"}}},
     {"data":{"name":"fPts"},"mark":{"type":"point","filled":false,"size":30,"strokeWidth":1.3},"encoding":{"color":{"condition":{"test":"datum.g == 'control'","value":"#000000"},"value":"#e2231a"}}},
     {"data":{"name":"fBr"},"mark":{"type":"line","strokeWidth":1.3,"color":"#000000"},"encoding":{"order":{"field":"k","type":"quantitative"}}},
     {"data":{"values":[{"g":"control","y":0.76,"label":"**"}]},"mark":{"type":"text","fontSize":20,"align":"center","baseline":"alphabetic"},"encoding":{"text":{"field":"label"},
        "x":{"field":"g","type":"nominal","sort":null,"bandPosition":1,"scale":{"domain":["control","4-AP"],"range":[427,617],"paddingInner":0,"paddingOuter":0},"axis":{"orient":"bottom","offset":-185,"title":null,"tickBand":"extent","tickSize":9,"tickWidth":1.5,"domainWidth":1.5,"labelFontSize":14,"labelPadding":3,"labelAngle":0}}}}
   ]},
  {"encoding":{"x":{"field":"g","type":"nominal","sort":null,"scale":{"domain":["control","4-AP"],"range":[413,617],"paddingInner":0,"paddingOuter":0},"axis":{"orient":"bottom","offset":-21,"title":null,"tickBand":"extent","tickSize":10,"tickWidth":1.5,"domainWidth":1.5,"labelFontSize":14,"labelPadding":-5,"labelAngle":0}},
               "y":{"field":"y","type":"quantitative","scale":{"domain":[0,5.1],"range":[832,745.3],"nice":false,"zero":false},"axis":{"orient":"left","offset":-413,"values":[0,1,2,3,4],"format":"d","title":"τ (ms)","titleFontSize":14,"titlePadding":18,"tickSize":6,"tickWidth":1.5,"domainWidth":1.5,"labelFontSize":15,"labelPadding":3}}},
   "layer":[
     {"data":{"name":"gBar"},"transform":[{"filter":"datum.g == 'control'"}],"mark":{"type":"bar","width":{"band":0.49},"fill":"#bdbdbd","stroke":"#000000","strokeWidth":1.5},"encoding":{"y2":{"datum":0}}},
     {"data":{"name":"gBar"},"transform":[{"filter":"datum.g != 'control'"}],"mark":{"type":"bar","width":{"band":0.49},"fill":"#f8c3c3","stroke":"#e2231a","strokeWidth":1.5},"encoding":{"y2":{"datum":0}}},
     {"data":{"name":"gErr"},"mark":{"type":"rule","strokeWidth":1.5},"encoding":{"y2":{"field":"y2"},"color":{"condition":{"test":"datum.g == 'control'","value":"#000000"},"value":"#e2231a"}}},
     {"data":{"name":"gCap"},"mark":{"type":"tick","orient":"horizontal","size":8,"thickness":1.5},"encoding":{"color":{"condition":{"test":"datum.g == 'control'","value":"#000000"},"value":"#e2231a"}}},
     {"data":{"name":"gPts"},"mark":{"type":"line","strokeDash":[3,2],"strokeWidth":1.5,"color":"#000000"},"encoding":{"detail":{"field":"pair","type":"nominal"}}},
     {"data":{"name":"gPts"},"mark":{"type":"point","filled":false,"size":30,"strokeWidth":1.3},"encoding":{"color":{"condition":{"test":"datum.g == 'control'","value":"#000000"},"value":"#e2231a"}}},
     {"data":{"name":"gBr"},"mark":{"type":"line","strokeWidth":1.3,"color":"#000000"},"encoding":{"order":{"field":"k","type":"quantitative"}}},
     {"data":{"values":[{"g":"control","y":5.97,"label":"*"}]},"mark":{"type":"text","fontSize":20,"align":"center","baseline":"alphabetic"},"encoding":{"text":{"field":"label"},
        "x":{"field":"g","type":"nominal","sort":null,"bandPosition":1,"scale":{"domain":["control","4-AP"],"range":[413,617],"paddingInner":0,"paddingOuter":0},"axis":{"orient":"bottom","offset":-21,"title":null,"tickBand":"extent","tickSize":10,"tickWidth":1.5,"domainWidth":1.5,"labelFontSize":14,"labelPadding":-5,"labelAngle":0}}}}
   ]}
],
"resolve": {"scale": {"x": "independent", "y": "independent"}}
}
